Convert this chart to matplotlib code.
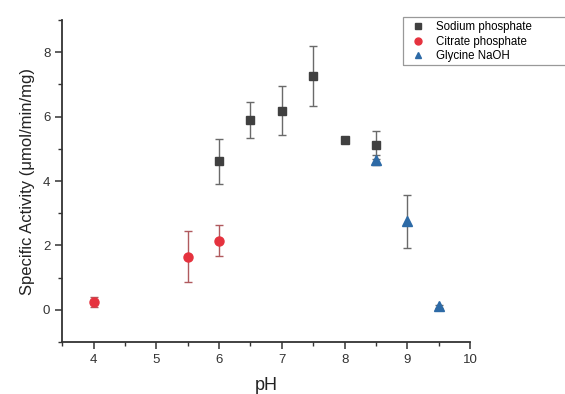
import matplotlib
matplotlib.use("Agg")
import matplotlib.pyplot as plt
from matplotlib.ticker import MultipleLocator
from matplotlib.lines import Line2D
from matplotlib.patches import Rectangle

plt.rcParams['font.family'] = ['Liberation Sans', 'DejaVu Sans']

sodium_ph = [6.0, 6.5, 7.0, 7.5, 8.0, 8.5]
sodium_act = [4.62, 5.90, 6.19, 7.27, 5.26, 5.12]
sodium_err = [0.70, 0.55, 0.76, 0.93, 0.05, 0.45]

citrate_ph = [4.0, 5.5, 6.0]
citrate_act = [0.25, 1.65, 2.15]
citrate_err = [0.15, 0.80, 0.47]

glycine_ph = [8.5, 9.0, 9.5]
glycine_act = [4.65, 2.75, 0.11]
glycine_err = [0.15, 0.83, 0.05]

labels = ['Sodium phosphate', 'Citrate phosphate', 'Glycine NaOH']
colors = ['#404040', '#e5323e', '#2d6aa6']
markers = ['s', 'o', '^']

fig = plt.figure(figsize=(5.65, 3.94), dpi=100)
ax = fig.add_axes([0.110, 0.132, 0.722, 0.817])

ax.errorbar(sodium_ph, sodium_act, yerr=sodium_err, fmt=markers[0], color=colors[0],
            ecolor='#6a6a6a', elinewidth=1.0, capsize=3, capthick=1.0,
            markersize=6, zorder=3)
ax.errorbar(citrate_ph, citrate_act, yerr=citrate_err, fmt=markers[1], color=colors[1],
            ecolor='#b05a5e', elinewidth=1.0, capsize=3, capthick=1.0,
            markersize=6.5, zorder=3)
ax.errorbar(glycine_ph, glycine_act, yerr=glycine_err, fmt=markers[2], color=colors[2],
            ecolor='#6a6a6a', elinewidth=1.0, capsize=3, capthick=1.0,
            markersize=7, zorder=4)

ax.set_xlim(3.5, 10)
ax.set_ylim(-1, 9)
ax.xaxis.set_minor_locator(MultipleLocator(0.5))
ax.yaxis.set_minor_locator(MultipleLocator(1))
ax.set_xticks([4, 5, 6, 7, 8, 9, 10])
ax.set_yticks([0, 2, 4, 6, 8])

for s in ['top', 'right']:
    ax.spines[s].set_visible(False)
for s in ['left', 'bottom']:
    ax.spines[s].set_linewidth(1.3)
    ax.spines[s].set_color('#333333')

ax.tick_params(which='major', direction='out', length=5, width=1.1, colors='#333333', labelsize=9.5)
ax.tick_params(which='minor', direction='out', length=3, width=1.0, colors='#333333')

ax.set_xlabel('pH', fontsize=13, color='#222222', labelpad=8)
ax.set_ylabel('Specific Activity (\u03bcmol/min/mg)', fontsize=12, color='#222222', labelpad=6)

handles = [Line2D([], [], linestyle='none', marker=m, color=c, markersize=5)
           for m, c in zip(markers, colors)]
leg = fig.legend(handles, labels, loc='upper left', bbox_to_anchor=(405/565, 1 - 18/394),
                 frameon=False, fontsize=8.3, borderpad=0.3,
                 labelspacing=0.2, handletextpad=0.8, handlelength=1.6,
                 borderaxespad=0)
fig.add_artist(Rectangle((403/565, 1 - 65/394), 0.4, 48/394, transform=fig.transFigure,
                         fill=False, edgecolor='#999999', linewidth=0.9))

fig.savefig('out.png', dpi=100)
